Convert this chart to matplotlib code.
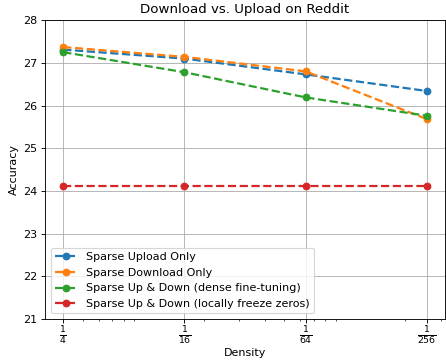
import matplotlib
matplotlib.use("Agg")
import matplotlib.pyplot as plt

# data
density = [4, 16, 64, 256]
tick_labels = [r"$\frac{1}{4}$", r"$\frac{1}{16}$", r"$\frac{1}{64}$", r"$\frac{1}{256}$"]
upload_only = [27.31, 27.10, 26.73, 26.34]
download_only = [27.37, 27.14, 26.80, 25.68]
dense_finetune = [27.25, 26.78, 26.19, 25.76]
freeze_zeros = [24.11, 24.11, 24.11, 24.11]

fig = plt.figure(figsize=(446 / 80, 360 / 80), dpi=80)
ax = fig.add_subplot(111)

ax.plot(density, upload_only, "o--", lw=2, label="Sparse Upload Only")
ax.plot(density, download_only, "o--", lw=2, label="Sparse Download Only")
ax.plot(density, dense_finetune, "o--", lw=2, label="Sparse Up & Down (dense fine-tuning)")
ax.plot(density, freeze_zeros, "o--", lw=2, label="Sparse Up & Down (locally freeze zeros)")

ax.set_xscale("log")
ax.set_xticks(density)
ax.set_xticklabels(tick_labels, fontsize=12)
ax.tick_params(axis="x", pad=2)
ax.set_ylim(21, 28)

ax.set_xlabel("Density", labelpad=1)
ax.set_ylabel("Accuracy")
ax.set_title("Download vs. Upload on Reddit")
ax.legend(loc="lower left")
ax.grid(True)

fig.subplots_adjust(left=0.101, right=0.998, top=0.944, bottom=0.114)
fig.savefig("out.png", dpi=80)
